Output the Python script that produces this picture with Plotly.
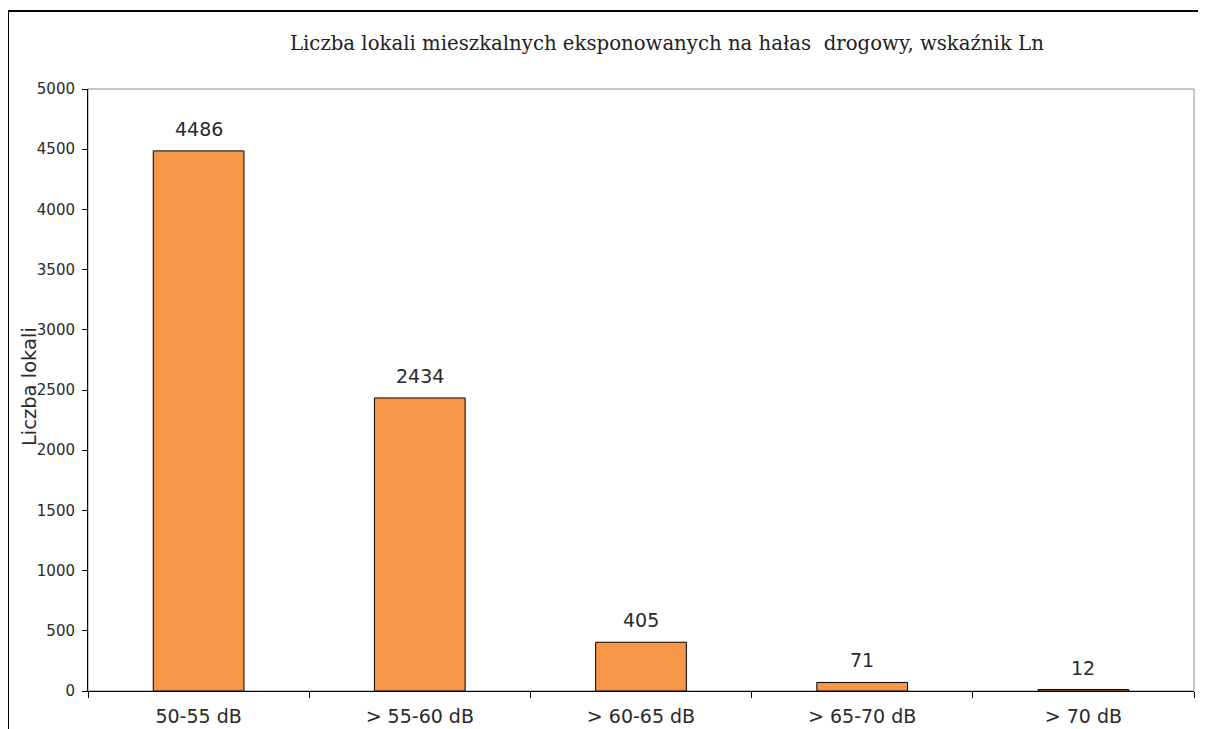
import plotly.graph_objects as go

categories = ["50-55 dB", "> 55-60 dB", "> 60-65 dB", "> 65-70 dB", "> 70 dB"]
values = [4486, 2434, 405, 71, 12]
y_ticks = [0, 500, 1000, 1500, 2000, 2500, 3000, 3500, 4000, 4500, 5000]
title_text = "Liczba lokali mieszkalnych eksponowanych na hałas  drogowy, wskaźnik Ln"
y_title = "Liczba lokali"

W, H = 1198, 721
L, T, R, B = 80, 81, 12, 38
PW, PH = W - L - R, H - T - B

fig = go.Figure()
fig.add_trace(go.Bar(
    x=categories, y=values,
    marker=dict(color="#F79646", line=dict(color="black", width=1)),
    hoverinfo="skip",
))

for c, v in zip(categories, values):
    fig.add_annotation(x=c, y=v, text=str(v), showarrow=False,
                       yanchor="bottom", yshift=9,
                       font=dict(family="DejaVu Sans", size=19, color="#2a2a2a"))

fig.add_annotation(xref="paper", yref="paper", x=(659 - L) / PW, y=1 + (T - 36) / PH,
                   text=title_text, showarrow=False, xanchor="center", yanchor="middle",
                   font=dict(family="DejaVu Serif", size=19.7, color="#222"))

fig.add_annotation(xref="paper", yref="paper", x=(21 - L) / PW, y=(683 - 379) / PH,
                   text=y_title, showarrow=False, textangle=-90, xanchor="center", yanchor="middle",
                   font=dict(family="DejaVu Sans", size=19.5, color="#2a2a2a"))

# plot area frame (gray)
fig.add_shape(type="rect", xref="paper", yref="paper", x0=0, x1=1, y0=0, y1=1,
              line=dict(color="#8c8c8c", width=1), layer="below")
# outer figure frame
fig.add_shape(type="rect", xref="paper", yref="paper",
              x0=(0 - L) / PW, x1=1.05, y0=-0.2, y1=1 + (T - 3) / PH,
              line=dict(color="black", width=2))

fig.update_layout(
    width=W, height=H,
    margin=dict(l=L, r=R, t=T, b=B, autoexpand=False),
    paper_bgcolor="white", plot_bgcolor="white",
    bargap=0.59,
    showlegend=False,
)
fig.update_xaxes(showline=True, linecolor="black", linewidth=1,
                 ticks="outside", tickson="boundaries", ticklen=6, tickcolor="black",
                 ticklabelstandoff=8, automargin=False,
                 tickfont=dict(family="DejaVu Sans", size=19, color="#2a2a2a"),
                 showgrid=False)
fig.update_yaxes(range=[0, 5000], tickvals=y_ticks, showline=True, linecolor="black", linewidth=1,
                 ticks="outside", ticklen=5, tickcolor="black", ticklabelstandoff=4,
                 automargin=False,
                 tickfont=dict(family="DejaVu Sans", size=15, color="#2a2a2a"),
                 showgrid=False, zeroline=False)

fig.write_html("out.html")
